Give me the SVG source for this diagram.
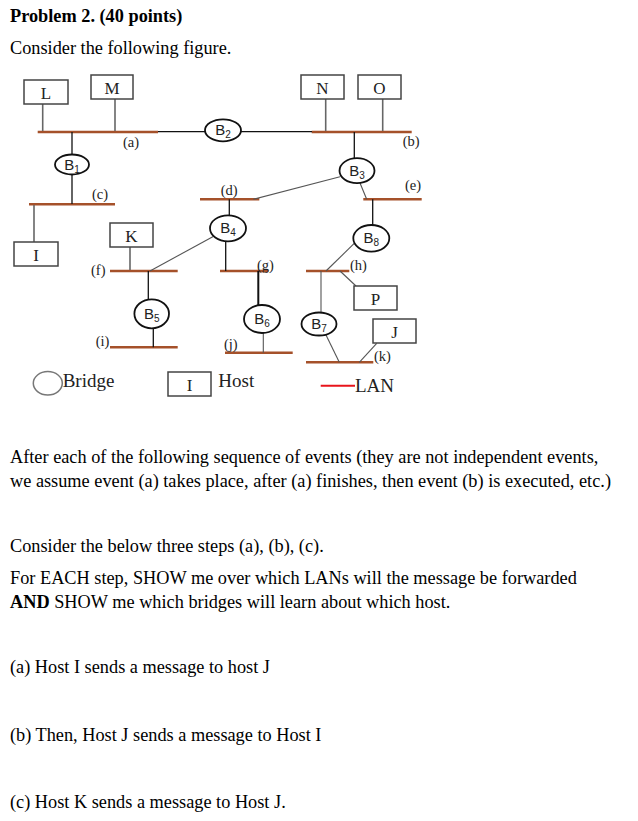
<svg xmlns="http://www.w3.org/2000/svg" width="638" height="821" viewBox="0 0 638 821">
<style>
.body{font-family:"Liberation Serif","Times New Roman",serif;font-size:18.3px;fill:#000}
.bold{font-weight:bold}
.lan{stroke:#a5512a;stroke-width:2.6;fill:none}
.stem{stroke:#666;stroke-width:1.6;fill:none}
.wire{stroke:#111;stroke-width:1.3;fill:none}
.thin{stroke:#555;stroke-width:1.1;fill:none}
.box{fill:#fff;stroke:#444;stroke-width:1.5}
.hl{font-family:"Liberation Serif","Times New Roman",serif;font-size:17px;text-anchor:middle;fill:#222}
.br{fill:#fff;stroke:#111;stroke-width:1.8}
.bl{font-family:"Liberation Sans",Arial,sans-serif;font-size:15px;text-anchor:middle;fill:#222}
.sub{font-size:10px}
.ll{font-family:"Liberation Serif","Times New Roman",serif;font-size:14.5px;fill:#222}
.leg{font-family:"Liberation Serif","Times New Roman",serif;font-size:19px;fill:#222}
</style>
<rect width="638" height="821" fill="#fff"/>

<text class="body bold" x="10" y="22">Problem 2. (40 points)</text>
<text class="body" x="10" y="54">Consider the following figure.</text>

<g id="connectors">
  <!-- LANs -->
  <line class="lan" x1="37.7" y1="132" x2="158" y2="132"/>
  <line class="lan" x1="311.7" y1="132" x2="411.7" y2="132"/>
  <line class="lan" x1="29" y1="204.3" x2="115" y2="204.3"/>
  <line class="lan" x1="200" y1="199.3" x2="259.3" y2="199.3"/>
  <line class="lan" x1="363.3" y1="199.3" x2="421.7" y2="199.3"/>
  <line class="lan" x1="110" y1="271" x2="177.7" y2="271"/>
  <line class="lan" x1="220" y1="271" x2="268.3" y2="271"/>
  <line class="lan" x1="306" y1="271" x2="349.3" y2="271"/>
  <line class="lan" x1="110" y1="347.3" x2="177.7" y2="347.3"/>
  <line class="lan" x1="225" y1="352.7" x2="292.7" y2="352.7"/>
  <line class="lan" x1="306" y1="362.3" x2="373.3" y2="362.3"/>
  <!-- host stems -->
  <line class="stem" x1="42.7" y1="104" x2="42.7" y2="131"/>
  <line class="stem" x1="115" y1="99" x2="115" y2="131"/>
  <line class="stem" x1="325.7" y1="99" x2="325.7" y2="131"/>
  <line class="stem" x1="382.7" y1="99" x2="382.7" y2="131"/>
  <line class="stem" x1="34" y1="205" x2="34" y2="242"/>
  <line class="stem" x1="130" y1="247" x2="130" y2="270"/>
  <line class="thin" x1="340" y1="271" x2="356" y2="286"/>
  <line class="thin" x1="376.7" y1="343.3" x2="359.3" y2="362.3"/>
  <!-- bridge links -->
  <line class="wire" x1="72" y1="132" x2="72" y2="154.5"/>
  <line class="wire" x1="72" y1="174.5" x2="72" y2="204"/>
  <line class="wire" x1="158" y1="131.7" x2="205" y2="131.7"/>
  <line class="wire" x1="241" y1="131.7" x2="312" y2="131.7"/>
  <line class="wire" x1="354.3" y1="132" x2="354.3" y2="158.3"/>
  <line class="thin" x1="340" y1="176.7" x2="253.3" y2="199.3"/>
  <line class="thin" x1="360" y1="183" x2="366.7" y2="199.3"/>
  <line class="wire" x1="229.3" y1="199.3" x2="229.3" y2="215.5"/>
  <line class="wire" x1="372.7" y1="199.3" x2="372.7" y2="225"/>
  <line class="thin" x1="213.7" y1="236.2" x2="150" y2="271"/>
  <line class="wire" x1="225.7" y1="241.2" x2="225.7" y2="271"/>
  <line class="wire" x1="148.3" y1="271" x2="148.3" y2="299.6"/>
  <line class="wire" x1="153.3" y1="328.2" x2="153.3" y2="347.3"/>
  <line class="wire" style="stroke-width:2" x1="258.3" y1="271" x2="258.3" y2="305.3"/>
  <line class="thin" x1="263.3" y1="332.8" x2="263.3" y2="352.7"/>
  <line class="thin" x1="355" y1="242.7" x2="326" y2="271"/>
  <line class="thin" x1="321" y1="271" x2="321" y2="313"/>
  <line class="thin" x1="326" y1="335" x2="339.3" y2="362.3"/>
</g>

<g id="lan-labels">
  <text class="ll" x="123" y="147">(a)</text>
  <text class="ll" x="402.7" y="146">(b)</text>
  <text class="ll" x="92" y="199">(c)</text>
  <text class="ll" x="220.7" y="195">(d)</text>
  <text class="ll" x="405" y="190">(e)</text>
  <text class="ll" x="91" y="275">(f)</text>
  <text class="ll" x="257" y="270">(g)</text>
  <text class="ll" x="350" y="270">(h)</text>
  <text class="ll" x="95.7" y="346">(i)</text>
  <text class="ll" x="224" y="349">(j)</text>
  <text class="ll" x="374" y="361">(k)</text>
</g>

<g id="host-L"><rect class="box" x="24" y="80" width="44" height="24"/><text class="hl" x="46" y="98.5">L</text></g>
<g id="host-M"><rect class="box" x="91" y="75" width="42" height="24"/><text class="hl" x="112" y="93.5">M</text></g>
<g id="host-N"><rect class="box" x="301" y="75" width="43" height="24"/><text class="hl" x="322.5" y="93.5">N</text></g>
<g id="host-O"><rect class="box" x="358" y="75" width="43" height="24"/><text class="hl" x="379.5" y="93.5">O</text></g>
<g id="host-I"><rect class="box" x="14" y="242" width="44" height="24"/><text class="hl" x="36" y="260.5">I</text></g>
<g id="host-K"><rect class="box" x="110" y="223" width="43" height="24"/><text class="hl" x="131.5" y="241.5">K</text></g>
<g id="host-P"><rect class="box" x="354" y="286" width="43" height="24"/><text class="hl" x="375.5" y="304.5">P</text></g>
<g id="host-J"><rect class="box" x="373" y="319" width="43" height="24"/><text class="hl" x="394.5" y="337.5">J</text></g>

<g id="bridge-B1"><ellipse class="br" cx="72" cy="164.5" rx="17" ry="10"/><text class="bl" x="72" y="169.5">B<tspan class="sub" dy="3">1</tspan></text></g>
<g id="bridge-B2"><ellipse class="br" cx="223" cy="130.3" rx="18" ry="11"/><text class="bl" x="223" y="135">B<tspan class="sub" dy="3">2</tspan></text></g>
<g id="bridge-B3"><ellipse class="br" cx="357" cy="170.7" rx="17.5" ry="12.5"/><text class="bl" x="357" y="175.5">B<tspan class="sub" dy="3">3</tspan></text></g>
<g id="bridge-B4"><ellipse class="br" cx="228" cy="228.3" rx="18" ry="13"/><text class="bl" x="228" y="233">B<tspan class="sub" dy="3">4</tspan></text></g>
<g id="bridge-B5"><ellipse class="br" cx="151.7" cy="313.8" rx="17.3" ry="14.5"/><text class="bl" x="151.7" y="318.5">B<tspan class="sub" dy="3">5</tspan></text></g>
<g id="bridge-B6"><ellipse class="br" cx="262" cy="319" rx="18" ry="14"/><text class="bl" x="262" y="323.7">B<tspan class="sub" dy="3">6</tspan></text></g>
<g id="bridge-B7"><ellipse class="br" cx="319" cy="324" rx="17.5" ry="11.5"/><text class="bl" x="319" y="328.7">B<tspan class="sub" dy="3">7</tspan></text></g>
<g id="bridge-B8"><ellipse class="br" cx="371.3" cy="238.3" rx="18" ry="13.3"/><text class="bl" x="371.3" y="243">B<tspan class="sub" dy="3">8</tspan></text></g>

<g id="legend">
  <ellipse cx="47.8" cy="383.3" rx="14.5" ry="11.7" fill="#fff" stroke="#777" stroke-width="1.5"/>
  <text class="leg" x="62.7" y="387">Bridge</text>
  <rect class="box" x="168" y="372" width="43" height="24"/>
  <text class="hl" x="189.5" y="391">I</text>
  <text class="leg" x="218.3" y="387">Host</text>
  <line x1="320.7" y1="385.7" x2="355" y2="385.7" stroke="#e8141b" stroke-width="2"/>
  <text class="leg" x="355" y="392">LAN</text>
</g>

<text class="body" x="10" y="463">After each of the following sequence of events (they are not independent events,</text>
<text class="body" x="10" y="487">we assume event (a) takes place, after (a) finishes, then event (b) is executed, etc.)</text>
<text class="body" x="10" y="552">Consider the below three steps (a), (b), (c).</text>
<text class="body" x="10" y="584">For EACH step, SHOW me over which LANs will the message be forwarded</text>
<text class="body" x="10" y="608"><tspan class="bold">AND</tspan> SHOW me which bridges will learn about which host.</text>
<text class="body" x="10" y="673">(a) Host I sends a message to host J</text>
<text class="body" x="10" y="741">(b) Then, Host J sends a message to Host I</text>
<text class="body" x="10" y="808">(c) Host K sends a message to Host J.</text>
</svg>
